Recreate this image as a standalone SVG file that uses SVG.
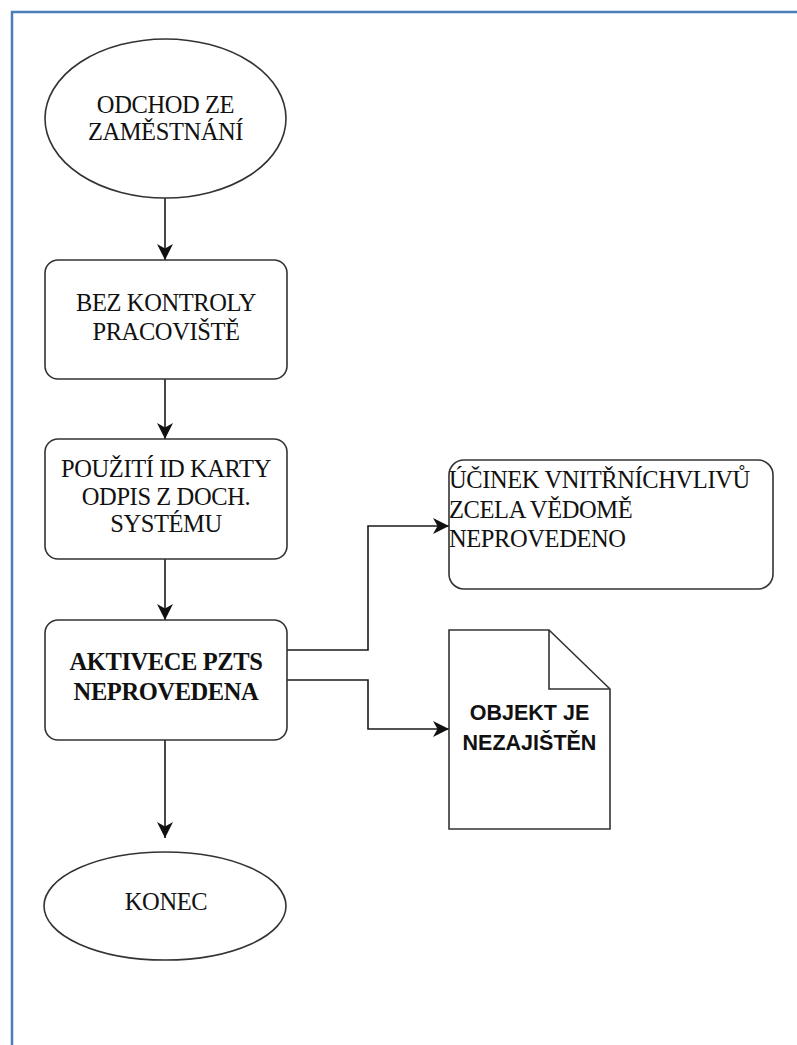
<svg xmlns="http://www.w3.org/2000/svg" width="797" height="1045" viewBox="0 0 797 1045">
  <defs>
    <marker id="arrow" markerUnits="userSpaceOnUse" markerWidth="17" markerHeight="16" refX="16" refY="8" orient="auto">
      <path d="M0,0 L16,8 L0,16 L4.5,8 z" fill="#111"/>
    </marker>
    <style>
      .shape { fill: #fff; stroke: #333; stroke-width: 1.6; }
      .edge { fill: none; stroke: #1a1a1a; stroke-width: 1.6; marker-end: url(#arrow); }
      .serif { font-family: "Liberation Serif", "Times New Roman", serif; font-size: 24.5px; letter-spacing: -0.4px; fill: #111; }
      .bold { font-weight: bold; }
      .sans { font-family: "Liberation Sans", Arial, sans-serif; font-size: 21.5px; font-weight: bold; fill: #111; }
      .mid { text-anchor: middle; }
      .frame { fill: none; stroke: #4a7ebb; stroke-width: 2.5; }
    </style>
  </defs>

  <rect width="797" height="1045" fill="#fff"/>

  <!-- page frame -->
  <path class="frame" d="M12,1045 L12,12 L797,12"/>

  <!-- connectors -->
  <g id="connectors">
    <path class="edge" d="M165,198 L165,260"/>
    <path class="edge" d="M165,379 L165,439"/>
    <path class="edge" d="M165,559 L165,620"/>
    <path class="edge" d="M165,740 L165,838"/>
    <path class="edge" d="M287,650 L368,650 L368,526 L449,526"/>
    <path class="edge" d="M287,680 L368,680 L368,729 L449,729"/>
  </g>

  <g id="start">
    <ellipse class="shape" cx="165.5" cy="118.5" rx="120.5" ry="79.5"/>
    <text class="serif mid" x="165.5" y="113">ODCHOD ZE</text>
    <text class="serif mid" x="165.5" y="140">ZAMĚSTNÁNÍ</text>
  </g>

  <g id="no-check">
    <rect class="shape" x="45" y="260" width="242" height="119" rx="13"/>
    <text class="serif mid" x="166" y="311">BEZ KONTROLY</text>
    <text class="serif mid" x="166" y="340">PRACOVIŠTĚ</text>
  </g>

  <g id="id-card">
    <rect class="shape" x="45" y="439" width="242" height="120" rx="13"/>
    <text class="serif mid" x="166" y="477">POUŽITÍ ID KARTY</text>
    <text class="serif mid" x="166" y="505">ODPIS Z DOCH.</text>
    <text class="serif mid" x="166" y="532">SYSTÉMU</text>
  </g>

  <g id="pzts">
    <rect class="shape" x="45" y="620" width="242" height="120" rx="13"/>
    <text class="serif bold mid" x="166" y="670">AKTIVECE PZTS</text>
    <text class="serif bold mid" x="166" y="700">NEPROVEDENA</text>
  </g>

  <g id="effect">
    <rect class="shape" x="449" y="460" width="324" height="129" rx="15"/>
    <text class="serif" x="449" y="488">ÚČINEK VNITŘNÍCHVLIVŮ</text>
    <text class="serif" x="449" y="518">ZCELA VĚDOMĚ</text>
    <text class="serif" x="449" y="547">NEPROVEDENO</text>
  </g>

  <g id="unsecured">
    <path class="shape" d="M449,630 L549,630 L610,689 L610,829 L449,829 z"/>
    <path fill="none" stroke="#333" stroke-width="1.6" d="M549,630 L549,689 L610,689"/>
    <text class="sans mid" x="529.5" y="720">OBJEKT JE</text>
    <text class="sans mid" x="529.5" y="750">NEZAJIŠTĚN</text>
  </g>

  <g id="end">
    <ellipse class="shape" cx="165" cy="906" rx="121" ry="54"/>
    <text class="serif mid" x="166" y="910">KONEC</text>
  </g>
</svg>
